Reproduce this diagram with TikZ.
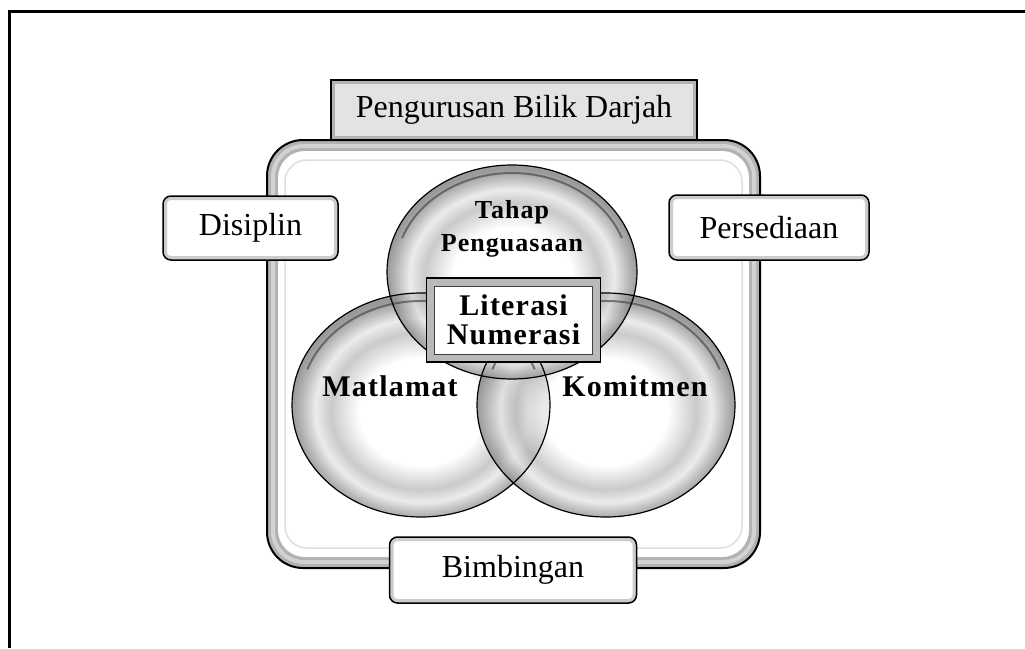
\documentclass[tikz,border=0pt]{standalone}
\usepackage{fontspec}
\setmainfont{Liberation Serif}
\newfontfamily\labelfont[LetterSpace=4]{Liberation Serif}
\usepackage{tikz}
\usetikzlibrary{shapes.geometric}

\pgfdeclareradialshading{glossy}{\pgfpoint{0bp}{-2bp}}{%
    color(0bp)=(white); color(12bp)=(white); color(17.5bp)=(gray!55);
    color(20.5bp)=(white!80!gray); color(23bp)=(gray!70); color(25bp)=(gray!95!black);
    color(50bp)=(gray!95!black)}

\tikzset{
    sphere/.style={ellipse, shade, shading=glossy, fill opacity=0.75, inner sep=0pt},
    sphereline/.style={draw=black, line width=1.2pt},
    rim/.style={draw=gray!60!black, line width=2pt, draw opacity=0.7},
    frameedge/.style={draw=black, line width=2pt, fill=gray!60, rounded corners=36pt},
    sidebox/.style={draw=black, line width=1.5pt, rounded corners=8pt, fill=white,
        font=\fontsize{32}{34}\selectfont,
        path picture={\draw[gray!40, line width=8pt] (path picture bounding box.south west) rectangle (path picture bounding box.north east);}},
    titlebox/.style={draw=black, line width=1.5pt, fill=gray!22,
        font=\fontsize{32}{34}\selectfont,
        path picture={\draw[gray!60, line width=8pt] (path picture bounding box.south west) rectangle (path picture bounding box.north east);}},
    corebox/.style={draw=black, line width=1.5pt, fill=white, align=center,
        font=\labelfont\bfseries\fontsize{30}{29}\selectfont,
        path picture={\draw[gray!55, line width=16pt] (path picture bounding box.south west) rectangle (path picture bounding box.north east);
            \draw[black!75, line width=1pt] ([shift={(8pt,-8pt)}]path picture bounding box.north west) rectangle ([shift={(-8pt,8pt)}]path picture bounding box.south east);}},
    bigword/.style={font=\labelfont\bfseries\fontsize{30}{32}\selectfont},
    smallword/.style={font=\labelfont\bfseries\fontsize{26}{33}\selectfont, align=center},
}

\begin{document}
\begin{tikzpicture}[x=1pt, y=-1pt]

    \useasboundingbox (0,0) rectangle (1025,648);
    \draw[line width=3pt] (9.5,648) -- (9.5,11.5) -- (1025,11.5);

    \draw[frameedge] (267,140) rectangle (760,568);
    \draw[gray!35, line width=4pt, rounded corners=31pt] (273,146) rectangle (754,562);
    \fill[white, rounded corners=27pt] (278,151) rectangle (749,557);
    \draw[gray!25, line width=1.5pt, rounded corners=22pt] (285,160) rectangle (742,548);

    \node[titlebox, minimum width=366pt, minimum height=60pt] (pengurusan) at (514,110) {Pengurusan Bilik Darjah};
    \node[sidebox, minimum width=175pt, minimum height=64pt] (disiplin) at (250.5,228) {Disiplin};
    \node[sidebox, minimum width=200pt, minimum height=65pt] (persediaan) at (769,227.5) {Persediaan};
    \node[sidebox, minimum width=247pt, minimum height=66pt] (bimbingan) at (513,570) {Bimbingan};

    \node[sphere, minimum width=258pt, minimum height=224pt] (matlamat) at (421,405) {};
    \node[sphere, minimum width=258pt, minimum height=224pt] (komitmen) at (606,405) {};
    \node[sphere, minimum width=250pt, minimum height=214pt] (tahap) at (512,272) {};

    \draw[rim] (matlamat.center) ++(200:121 and 104) arc [start angle=200, end angle=340, x radius=121, y radius=104];
    \draw[rim] (komitmen.center) ++(200:121 and 104) arc [start angle=200, end angle=340, x radius=121, y radius=104];
    \draw[rim] (tahap.center) ++(200:117 and 99) arc [start angle=200, end angle=340, x radius=117, y radius=99];

    \draw[sphereline] (matlamat.center) ellipse [x radius=129, y radius=112];
    \draw[sphereline] (komitmen.center) ellipse [x radius=129, y radius=112];
    \draw[sphereline] (tahap.center) ellipse [x radius=125, y radius=107];

    \node[smallword] (tahaplabel) at (512,229) {Tahap\\Penguasaan};
    \node[bigword] (matlamatlabel) at (390,386) {Matlamat};
    \node[bigword] (komitmenlabel) at (635,386) {Komitmen};
    \node[corebox, minimum width=174pt, minimum height=84pt] (literasi) at (513.5,320) {Literasi\\Numerasi};

\end{tikzpicture}
\end{document}
